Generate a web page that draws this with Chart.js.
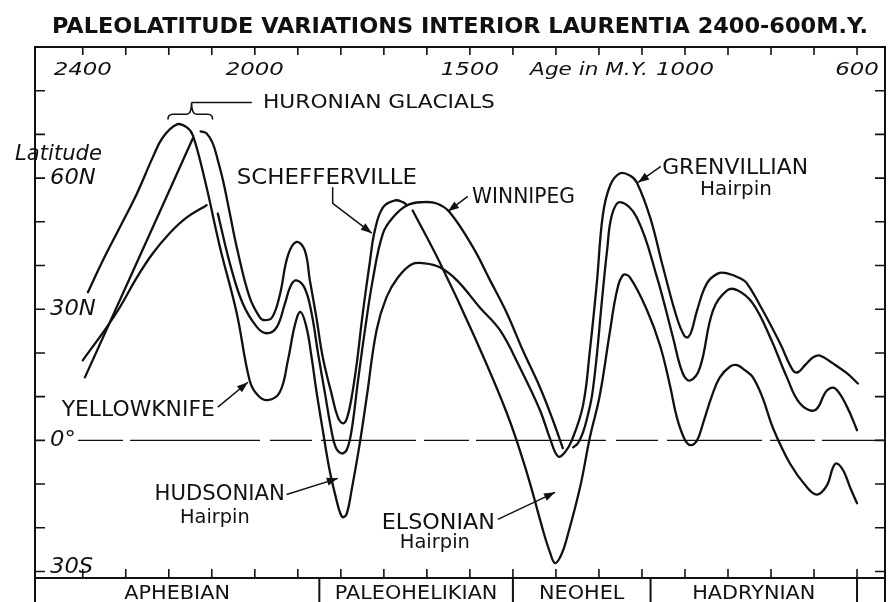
<!DOCTYPE html>
<html>
<head>
<meta charset="utf-8">
<title>Paleolatitude variations interior Laurentia</title>
<script src="https://cdn.jsdelivr.net/npm/chart.js@4.4.0/dist/chart.umd.min.js"></script>
<style>
  html, body { margin: 0; padding: 0; background: #fff; }
  canvas { display: block; }
</style>
</head>
<body>
<canvas id="paleoChart" width="896" height="602"></canvas>
<script>
// x = age in M.Y. (reversed), y = paleolatitude in degrees (north positive)
const ageTicks = [2400, 2300, 2200, 2100, 2000, 1900, 1800, 1700, 1600, 1500, 1400, 1300, 1200, 1100, 1000, 900, 800, 700, 600];
const latTicks = [-30, -20, -10, 0, 10, 20, 30, 40, 50, 60, 70, 80];
const topLabels = ['2400', '2000', '1500', '1000', '600'];
const topLabelAges = [2400, 2000, 1500, 1000, 600];
const latLabels = ['60N', '30N', '0°', '30S'];
const latLabelValues = [60, 30, 0, -30];
const eraNames = ['APHEBIAN', 'PALEOHELIKIAN', 'NEOHEL', 'HADRYNIAN', ''];
const eraBounds = [1850, 1400, 1080, 600];

// outer Huronian peak -> Yellowknife / Hudsonian hairpin -> lower arc -> Grenvillian hairpin
const pathAAges = [2388, 2353, 2314, 2274, 2237, 2214, 2181, 2158, 2144, 2116, 2081, 2042, 2012, 1993, 1970, 1942, 1923, 1907, 1894, 1880,
  1868, 1857, 1842, 1826, 1810, 1802, 1795, 1786, 1775, 1756, 1740, 1717, 1694, 1667, 1635, 1605, 1570, 1530, 1477, 1430,
  1384, 1337, 1314, 1295, 1279, 1263, 1237, 1221, 1205, 1191, 1174, 1151, 1128, 1112, 1081, 1051, 1019, 1002, 993, 984,
  972, 949, 923, 902, 872, 856, 819, 779, 749, 737, 721, 702, 686, 656, 623, 598];
const pathALats = [33.9, 41.2, 48.7, 56.5, 64.8, 69.3, 72.3, 71.6, 69.8, 59.5, 44.2, 29.1, 13.7, 10.3, 9.2, 11.0, 18.3, 26.3, 29.4, 25.9,
  19.0, 11.4, 2.3, -6.9, -13.7, -16.5, -17.6, -16.7, -11.4, -0.7, 9.8, 25.2, 32.7, 37.3, 40.3, 40.5, 39.6, 36.6, 30.4, 25.2,
  16.7, 6.9, 0.5, -3.7, -2.7, 0, 8.0, 20.6, 35.9, 51.5, 58.3, 61.1, 60.6, 59.0, 51.0, 39.6, 28.1, 24.0, 23.6, 25.2,
  29.7, 35.9, 38.2, 38.2, 37.1, 35.9, 29.7, 22.2, 16.0, 15.6, 17.2, 19.0, 19.4, 17.6, 15.3, 13.0];

// pointed Huronian peak
const pathBAges = [2395, 2270, 2144];
const pathBLats = [14.4, 41.6, 69.1];

// flattening early curve
const pathCAges = [2400, 2344, 2314, 2274, 2237, 2198, 2158, 2112];
const pathCLats = [18.3, 25.9, 30.4, 37.3, 42.8, 47.4, 51.0, 53.8];

// upper curve to Schefferville
const pathDAges = [2126, 2112, 2098, 2086, 2074, 2058, 2042, 2012, 1988, 1977, 1960, 1942, 1923, 1903, 1884, 1872, 1857, 1842, 1822, 1807,
  1795, 1786, 1775, 1763, 1749, 1733, 1721, 1702, 1674, 1656, 1646];
const pathDLats = [70.7, 70.2, 68.0, 64.1, 59.5, 51.9, 44.2, 32.7, 28.1, 27.5, 28.1, 33.2, 42.3, 45.4, 43.5, 36.6, 28.2, 19.0, 10.8, 5.3,
  3.9, 5.0, 9.8, 17.6, 29.1, 40.5, 48.0, 53.3, 54.9, 54.5, 53.8];

// middle curve through Winnipeg
const pathEAges = [2086, 2058, 2028, 1995, 1972, 1949, 1930, 1916, 1903, 1884, 1868, 1853, 1837, 1822, 1812, 1798, 1786, 1775, 1760, 1744,
  1726, 1702, 1679, 1646, 1609, 1577, 1547, 1493, 1453, 1414, 1377, 1337, 1307, 1284];
const pathELats = [51.9, 40.5, 31.3, 25.9, 24.5, 25.9, 31.3, 35.5, 36.6, 34.8, 29.1, 19.9, 10.8, 2.3, -1.6, -3.0, -2.1, 2.3, 13.7, 25.2,
  36.6, 47.4, 51.0, 53.8, 54.5, 54.2, 52.2, 44.2, 36.6, 29.1, 20.6, 12.1, 4.6, -1.8];

// Elsonian hairpin -> lower Hadrynian curve
const pathFAges = [1633, 1570, 1493, 1414, 1367, 1330, 1314, 1302, 1288, 1274, 1244, 1221, 1198, 1174, 1158, 1144, 1128, 1088, 1058, 1035,
  1019, 1002, 988, 972, 958, 937, 919, 895, 879, 860, 842, 819, 795, 756, 716, 693, 670, 656, 647, 632, 616, 600];
const pathFLats = [52.6, 40.7, 24.5, 6.2, -7.6, -20.6, -25.6, -28.1, -26.3, -22.2, -10.8, 0.7, 10.3, 25.2, 34.3, 37.8, 37.3, 29.7, 21.7, 12.6,
  5.3, 0.5, -1.1, 0, 3.9, 10.3, 14.4, 16.9, 17.2, 16.0, 14.4, 9.6, 2.7, -5.3, -10.8, -12.4, -10.3, -6.2, -5.3, -6.9, -10.8, -14.4];

// middle Grenvillian / Hadrynian curve
const pathGAges = [1260, 1249, 1237, 1226, 1216, 1205, 1193, 1181, 1170, 1151, 1112, 1065, 1028, 1005, 988, 965, 935, 902, 877, 842,
  802, 763, 733, 698, 670, 651, 623, 600];
const pathGLats = [-1.6, -0.7, 1.8, 5.7, 10.3, 19.4, 32.0, 43.5, 51.5, 54.5, 51.0, 37.3, 23.6, 15.3, 13.7, 16.7, 29.7, 34.3, 34.3, 31.3,
  23.6, 14.4, 8.5, 6.9, 11.4, 11.9, 7.6, 2.3];

const FONT = '"DejaVu Sans", "Liberation Sans", sans-serif';
const INK = '#111';

// labels placed in data space (age, latitude)
const notes = [
  { text: 'HURONIAN GLACIALS', from: 1981, to: 1442, lat: 77.8, size: 20 },
  { text: 'SCHEFFERVILLE', from: 2042, to: 1623, lat: 60.3, size: 21 },
  { text: 'WINNIPEG', from: 1495, to: 1256, lat: 56.1, size: 21 },
  { text: 'GRENVILLIAN', from: 1053, to: 714, lat: 62.6, size: 21 },
  { text: 'Hairpin', from: 965, to: 798, lat: 57.8, size: 19 },
  { text: 'YELLOWKNIFE', from: 2449, to: 2093, lat: 7.4, size: 21 },
  { text: 'HUDSONIAN', from: 2233, to: 1930, lat: -11.8, size: 21 },
  { text: 'Hairpin', from: 2174, to: 2012, lat: -17.4, size: 19 },
  { text: 'ELSONIAN', from: 1705, to: 1442, lat: -18.6, size: 21 },
  { text: 'Hairpin', from: 1663, to: 1500, lat: -23.0, size: 19 },
  { text: 'Age in M.Y.', from: 1360, to: 1086, lat: 85.0, size: 18, style: 'italic' }
];
const arrows = [
  [[2086, 7.6], [2016, 13.3]],
  [[1926, -12.4], [1807, -8.7]],
  [[1435, -18.1], [1302, -11.9]],
  [[1819, 57.9], [1819, 54.2], [1728, 47.4]],
  [[1505, 55.8], [1551, 52.4]],
  [[1056, 62.7], [1109, 59.0]]
];

function drawFit(ctx, text, x0, x1, yMid, size, style) {
  ctx.font = `${style || 'normal'} ${size}px ${FONT}`;
  const w = ctx.measureText(text).width;
  ctx.save();
  ctx.translate(x0, yMid + size * 0.365);
  ctx.scale((x1 - x0) / w, 1);
  ctx.textAlign = 'left';
  ctx.textBaseline = 'alphabetic';
  ctx.fillText(text, 0, 0);
  ctx.restore();
}

function drawStretch(ctx, text, x, yMid, size, style, sx, align) {
  ctx.font = `${style || 'normal'} ${size}px ${FONT}`;
  const w = ctx.measureText(text).width * sx;
  const x0 = align === 'left' ? x : x - w / 2;
  drawFit(ctx, text, x0, x0 + w, yMid, size, style);
}

function drawArrow(ctx, pts) {
  ctx.beginPath();
  ctx.moveTo(pts[0][0], pts[0][1]);
  for (let i = 1; i < pts.length; i++) ctx.lineTo(pts[i][0], pts[i][1]);
  ctx.stroke();
  const [x1, y1] = pts[pts.length - 2];
  const [x2, y2] = pts[pts.length - 1];
  const ang = Math.atan2(y2 - y1, x2 - x1);
  const L = 11, W = 4;
  const c = Math.cos(ang), s = Math.sin(ang);
  ctx.beginPath();
  ctx.moveTo(x2, y2);
  ctx.lineTo(x2 - L * c + W * s, y2 - L * s - W * c);
  ctx.lineTo(x2 - L * c - W * s, y2 - L * s + W * c);
  ctx.closePath();
  ctx.fill();
}

const paleoFrame = {
  id: 'paleoFrame',
  beforeDatasetsDraw(chart) {
    const { ctx, chartArea: a, scales: { y } } = chart;
    const y0 = y.getPixelForValue(0);
    ctx.save();
    ctx.strokeStyle = INK;
    ctx.lineWidth = 1.4;
    ctx.setLineDash([45, 7, 130, 10, 42, 9, 95, 8]);
    ctx.beginPath();
    ctx.moveTo(a.left + 43, y0);
    ctx.lineTo(a.right, y0);
    ctx.stroke();
    ctx.restore();
  },
  afterDraw(chart) {
    const { ctx, chartArea: a, scales: { x, y } } = chart;
    const px = v => x.getPixelForValue(v);
    const py = v => y.getPixelForValue(v);
    const H = chart.height;
    ctx.save();
    ctx.strokeStyle = INK;
    ctx.fillStyle = INK;

    // frame and era strip
    ctx.lineWidth = 2;
    ctx.strokeRect(a.left, a.top, a.right - a.left, a.bottom - a.top);
    ctx.beginPath();
    ctx.moveTo(a.left, a.bottom); ctx.lineTo(a.left, H);
    ctx.moveTo(a.right, a.bottom); ctx.lineTo(a.right, H);
    eraBounds.forEach(b => { ctx.moveTo(px(b), a.bottom); ctx.lineTo(px(b), H); });
    ctx.stroke();

    // ticks
    ctx.lineWidth = 1.6;
    ctx.beginPath();
    ageTicks.forEach(t => {
      const p = px(t);
      ctx.moveTo(p, a.top); ctx.lineTo(p, a.top + 8);
      ctx.moveTo(p, a.bottom); ctx.lineTo(p, a.bottom - 9);
    });
    latTicks.forEach(t => {
      const p = py(t);
      ctx.moveTo(a.left, p); ctx.lineTo(a.left + 10, p);
      ctx.moveTo(a.right, p); ctx.lineTo(a.right - 10, p);
    });
    ctx.stroke();

    // title
    drawFit(ctx, 'PALEOLATITUDE VARIATIONS INTERIOR LAURENTIA 2400-600M.Y.', 52, 868, 25.5, 21, 'bold');

    // axis labels
    topLabels.forEach((t, i) => drawStretch(ctx, t, px(topLabelAges[i]), a.top + 21.5, 18, 'italic', 1.27));
    latLabels.forEach((t, i) => {
      const v = latLabelValues[i];
      const yy = v === -30 ? py(v) - 6 : py(v) - 2;
      drawStretch(ctx, t, a.left + 15, yy, 21, 'italic', 1.08, 'left');
    });
    drawFit(ctx, 'Latitude', a.left - 20, a.left + 67, 151.5, 22, 'italic');

    // era names
    const edges = [x.max].concat(eraBounds, [x.min]);
    eraNames.forEach((n, i) => {
      if (!n) return;
      const xc = (px(edges[i]) + px(edges[i + 1])) / 2;
      drawStretch(ctx, n, xc, (a.bottom + H) / 2 + 2, 20, 'normal', 1.04);
    });

    // annotations
    notes.forEach(n => drawFit(ctx, n.text, px(n.from), px(n.to), py(n.lat), n.size, n.style));

    ctx.lineWidth = 1.5;
    arrows.forEach(ar => drawArrow(ctx, ar.map(p => [px(p[0]), py(p[1])])));

    // Huronian brace and leader
    const xl = px(2202), xr = px(2098), xm = px(2147);
    const yEnd = py(73.4), yH = py(74.6), yTip = py(77.3);
    ctx.lineWidth = 1.6;
    ctx.beginPath();
    ctx.moveTo(xl, yEnd);
    ctx.quadraticCurveTo(xl, yH, xl + 5, yH);
    ctx.lineTo(xm - 5, yH);
    ctx.quadraticCurveTo(xm, yH, xm, yTip);
    ctx.quadraticCurveTo(xm, yH, xm + 5, yH);
    ctx.lineTo(xr - 5, yH);
    ctx.quadraticCurveTo(xr, yH, xr, yEnd);
    ctx.moveTo(xm, yTip);
    ctx.lineTo(px(2007), yTip);
    ctx.stroke();

    ctx.restore();
  }
};

const xy = (ages, lats) => ages.map((a, i) => ({ x: a, y: lats[i] }));
const curve = (ages, lats) => ({
  data: xy(ages, lats),
  showLine: true,
  borderColor: INK,
  borderWidth: 2.3,
  borderCapStyle: 'round',
  borderJoinStyle: 'round',
  pointRadius: 0,
  pointHoverRadius: 0,
  fill: false,
  tension: 0.4
});

const ctx = document.getElementById('paleoChart').getContext('2d');
new Chart(ctx, {
  type: 'scatter',
  data: {
    datasets: [
      curve(pathAAges, pathALats),
      curve(pathBAges, pathBLats),
      curve(pathCAges, pathCLats),
      curve(pathDAges, pathDLats),
      curve(pathEAges, pathELats),
      curve(pathFAges, pathFLats),
      curve(pathGAges, pathGLats)
    ]
  },
  options: {
    responsive: false,
    animation: false,
    layout: { padding: { left: 35, right: 11, top: 47, bottom: 24 } },
    scales: {
      x: { type: 'linear', reverse: true, min: 535, max: 2511, display: false },
      y: { type: 'linear', min: -31.5, max: 90, display: false }
    },
    plugins: {
      legend: { display: false },
      tooltip: { enabled: false }
    }
  },
  plugins: [paleoFrame]
});
</script>
</body>
</html>
